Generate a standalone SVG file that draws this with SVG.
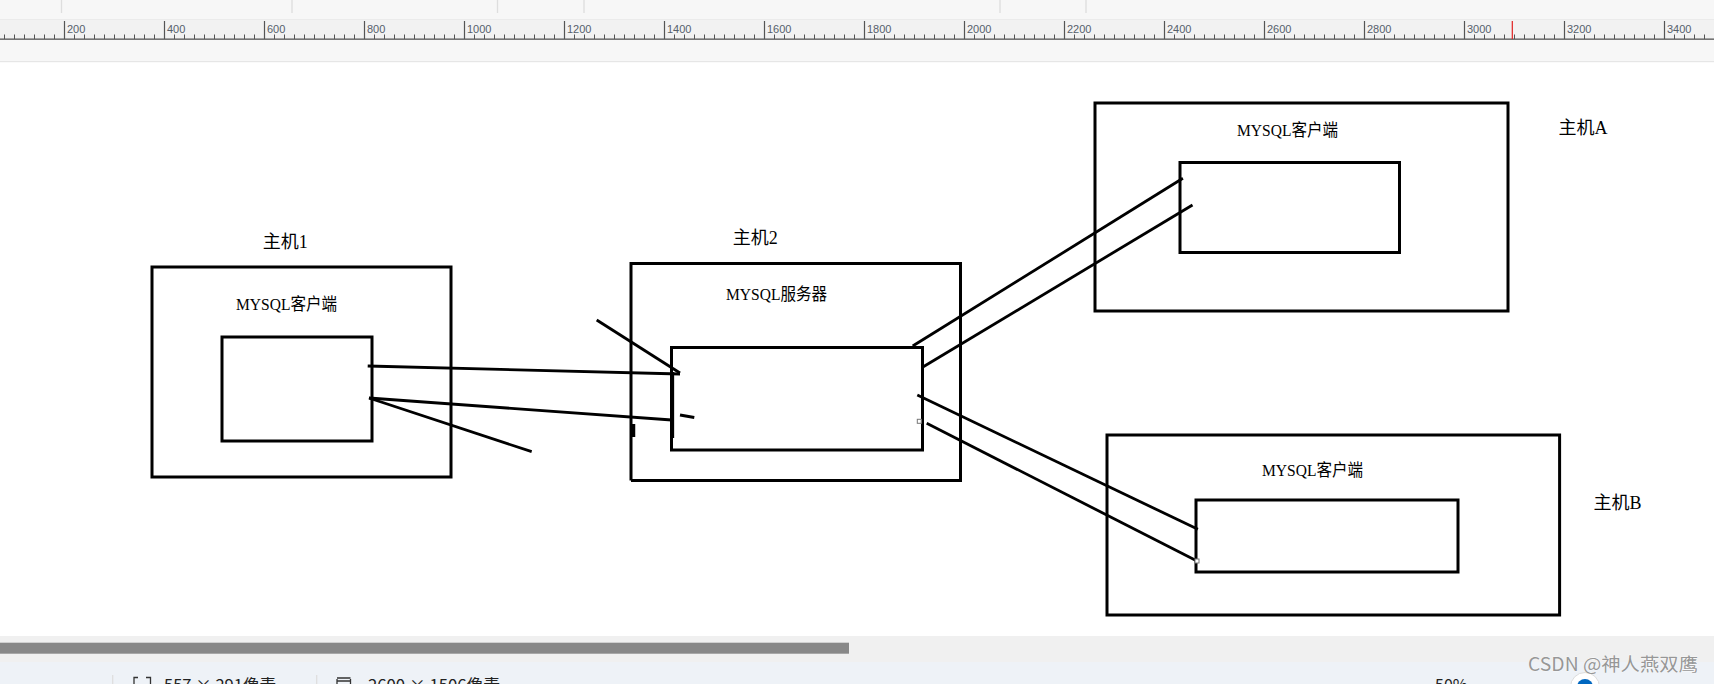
<svg xmlns="http://www.w3.org/2000/svg" width="1714" height="684" viewBox="0 0 1714 684">
<style>
.box{fill:none;stroke:#000;stroke-width:3}
.ln{fill:none;stroke:#000;stroke-width:2.8;stroke-linecap:butt}
.lbl{font-family:"Liberation Serif","Noto Sans CJK SC",serif;font-size:18px;fill:#000}
.mx{font-family:"Liberation Serif","Noto Sans CJK SC",serif;font-size:17.5px;fill:#000}
.rl{font-family:"Liberation Sans","Noto Sans",sans-serif;font-size:11px;fill:#56606b}
.st{font-family:"Noto Sans CJK SC","Noto Sans",sans-serif;font-size:16px;fill:#222}
.sep{stroke:#dedede;stroke-width:1.3}
.hnd{fill:#fff;stroke:#777;stroke-width:1}
</style>
<defs>
<pattern id="ticks" patternUnits="userSpaceOnUse" x="0" y="0" width="10" height="684">
<rect x="4" y="0" width="1" height="684" fill="#555"/>
</pattern>
</defs>
<!-- window chrome -->
<rect x="0" y="0" width="1714" height="684" fill="#ffffff"/>
<rect x="0" y="0" width="1714" height="19" fill="#f7f7f7"/>
<g class="sep">
<line x1="61.5" y1="0" x2="61.5" y2="13"/>
<line x1="292" y1="0" x2="292" y2="13"/>
<line x1="497.5" y1="0" x2="497.5" y2="13"/>
<line x1="584" y1="0" x2="584" y2="13"/>
<line x1="1000" y1="0" x2="1000" y2="13"/>
<line x1="1086" y1="0" x2="1086" y2="13"/>
</g>
<rect x="0" y="19" width="1714" height="1" fill="#ebebeb"/>
<rect x="0" y="20" width="1714" height="19" fill="#f2f2f2"/>
<rect x="0" y="39" width="1714" height="23" fill="#f7f7f7"/>
<rect x="0" y="61" width="1714" height="1.2" fill="#e6e6e6"/>
<rect x="0" y="34.5" width="1714" height="4.5" fill="url(#ticks)"/>
<path d="M64.5 21V39M164.5 21V39M264.5 21V39M364.5 21V39M464.5 21V39M564.5 21V39M664.5 21V39M764.5 21V39M864.5 21V39M964.5 21V39M1064.5 21V39M1164.5 21V39M1264.5 21V39M1364.5 21V39M1464.5 21V39M1564.5 21V39M1664.5 21V39" stroke="#555" stroke-width="1.2"/>
<rect x="0" y="38.5" width="1714" height="1.3" fill="#555"/>
<line x1="1512.3" y1="21" x2="1512.3" y2="39" stroke="#e02020" stroke-width="1.2"/>
<g class="rl">
<text x="67" y="33.3">200</text><text x="167" y="33.3">400</text><text x="267" y="33.3">600</text><text x="367" y="33.3">800</text>
<text x="467" y="33.3">1000</text><text x="567" y="33.3">1200</text><text x="667" y="33.3">1400</text><text x="767" y="33.3">1600</text>
<text x="867" y="33.3">1800</text><text x="967" y="33.3">2000</text><text x="1067" y="33.3">2200</text><text x="1167" y="33.3">2400</text>
<text x="1267" y="33.3">2600</text><text x="1367" y="33.3">2800</text><text x="1467" y="33.3">3000</text><text x="1567" y="33.3">3200</text>
<text x="1667" y="33.3">3400</text>
</g>
<!-- bottom bars -->
<rect x="0" y="636" width="1714" height="26" fill="#f0f0f0"/>
<rect x="0" y="642.7" width="849" height="11" fill="#888888"/>
<rect x="0" y="662" width="1714" height="22" fill="#eef2f7"/>
<line x1="112.7" y1="675" x2="112.7" y2="684" class="sep"/>
<line x1="316.7" y1="675" x2="316.7" y2="684" class="sep"/>
<path d="M134 684V677.5H138M146 677.5H150.5V684" fill="none" stroke="#333" stroke-width="1.3"/>
<path d="M337 684V679M350.5 684V679M337 681H350.5M337 678H350.5" fill="none" stroke="#333" stroke-width="1.3"/>
<text class="st" x="164" y="690.5" textLength="112" lengthAdjust="spacingAndGlyphs">557 × 291像素</text>
<text class="st" x="368" y="690.5" textLength="132" lengthAdjust="spacingAndGlyphs">2600 × 1506像素</text>
<text class="st" x="1435" y="691" font-size="15">50%</text>
<circle cx="1585" cy="687" r="14.5" fill="#ffffff" stroke="#dcdcdc" stroke-width="1"/>
<circle cx="1585" cy="687" r="8" fill="#0067c0"/>
<text x="1528" y="671" textLength="170" lengthAdjust="spacingAndGlyphs" font-family="Noto Sans CJK SC, Noto Sans, sans-serif" font-size="18.5" fill="#979797" stroke="#ffffff" stroke-width="0.6" paint-order="stroke">CSDN @神人燕双鹰</text>
<!-- nodes -->
<g id="host1">
<rect class="box" x="152" y="267" width="299" height="210"/>
<rect class="box" x="222" y="337" width="150" height="104"/>
<text class="lbl" x="262.7" y="247.5">主机1</text>
<text class="mx" x="236" y="309.5" textLength="101" lengthAdjust="spacingAndGlyphs">MYSQL客户端</text>
</g>
<g id="host2">
<path class="box" d="M631 480.5V263.5H960.5V480.5H631"/>
<rect class="box" x="671.5" y="347.5" width="251" height="102.5"/>
<line x1="633" y1="424" x2="633" y2="437" stroke="#000" stroke-width="4.5"/>
<line x1="672.5" y1="372" x2="672.5" y2="438" stroke="#000" stroke-width="3.3"/>
<text class="lbl" x="732.7" y="244">主机2</text>
<text class="mx" x="726" y="299.5" textLength="101" lengthAdjust="spacingAndGlyphs">MYSQL服务器</text>
</g>
<g id="hostA">
<rect class="box" x="1095" y="103" width="413" height="208"/>
<rect class="box" x="1180" y="162.5" width="219.5" height="90"/>
<text class="mx" x="1237" y="136" textLength="101" lengthAdjust="spacingAndGlyphs">MYSQL客户端</text>
<text class="lbl" x="1558.6" y="133.5">主机A</text>
</g>
<g id="hostB">
<rect class="box" x="1107" y="435" width="452.6" height="180"/>
<rect class="box" x="1196" y="500" width="262" height="72"/>
<text class="mx" x="1262" y="476" textLength="101" lengthAdjust="spacingAndGlyphs">MYSQL客户端</text>
<text class="lbl" x="1593.6" y="508.5">主机B</text>
</g>
<!-- connectors -->
<g id="connectors">
<line class="ln" x1="367.7" y1="366" x2="680" y2="374"/>
<line class="ln" x1="369" y1="398" x2="671.7" y2="420"/>
<line class="ln" x1="369" y1="398" x2="531.7" y2="451.7"/>
<line class="ln" x1="596.7" y1="320" x2="680" y2="373"/>
<line class="ln" x1="680" y1="415" x2="694.3" y2="417.5"/>
<line class="ln" x1="912.7" y1="346" x2="1182.9" y2="178.3"/>
<line class="ln" x1="923.3" y1="366.7" x2="1192.5" y2="205"/>
<line class="ln" x1="917.3" y1="395" x2="1197.9" y2="529.3"/>
<line class="ln" x1="926.7" y1="423.3" x2="1197" y2="561"/>
<rect class="hnd" x="917.3" y="419.3" width="4" height="4"/>
<rect class="hnd" x="1195" y="559" width="4" height="4"/>
</g>
</svg>
